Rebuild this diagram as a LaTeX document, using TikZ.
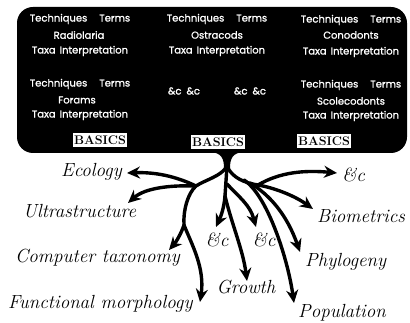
\documentclass[tikz,border=0pt]{standalone}
\usepackage{fontspec}
\newfontfamily\boxfont{Poppins}[FakeBold=1.2]
\usetikzlibrary{arrows.meta, positioning}

\begin{document}
\begin{tikzpicture}[x=1pt, y=-1pt,
    tx/.style = {text=white, font=\boxfont\fontsize{10}{11}\selectfont, inner sep=0pt},
    basics/.style = {fill=white, inner sep=1.5pt, minimum height=14pt,
        font=\bfseries\fontsize{12.5}{12.5}\selectfont\addfontfeatures{LetterSpace=14}},
    lbl/.style = {inner sep=0pt, font=\itshape\fontsize{19}{19}\selectfont\addfontfeatures{LetterSpace=16}},
    br/.style = {line width=3.4pt, line cap=round},
    arr/.style = {br, -{Stealth[length=13pt, width=12pt]}}]
    \useasboundingbox (0,0) rectangle (410,323);

    % the black panel
    \fill[rounded corners=16pt] (17,7) rectangle (407,153);

    \node[tx] (ra) at (80,19)  {Techniques\hspace{1.2em}Terms};
    \node[tx] (rb) at (79,35)  {Radiolaria};
    \node[tx] (rc) at (80,51)  {Taxa\hspace{0.4em}Interpretation};
    \node[tx] (fa) at (80,84)  {Techniques\hspace{1.2em}Terms};
    \node[tx] (fb) at (77,100) {Forams};
    \node[tx] (fc) at (80,115) {Taxa\hspace{0.4em}Interpretation};

    \node[tx] (oa) at (217,19) {Techniques\hspace{1.2em}Terms};
    \node[tx] (ob) at (217,35) {Ostracods};
    \node[tx] (oc) at (217,51) {Taxa\hspace{0.4em}Interpretation};
    \node[tx] (e1) at (184,91) {\&c\hspace{0.5em}\&c};
    \node[tx] (e2) at (250,91) {\&c\hspace{0.5em}\&c};

    \node[tx] (ca) at (351,20)  {Techniques\hspace{1.2em}Terms};
    \node[tx] (cb) at (351,35)  {Conodonts};
    \node[tx] (cc) at (351,52)  {Taxa\hspace{0.4em}Interpretation};
    \node[tx] (sa) at (351,85)  {Techniques\hspace{1.2em}Terms};
    \node[tx] (sb) at (351,101) {Scolecodonts};
    \node[tx] (sc) at (351,116) {Taxa\hspace{0.4em}Interpretation};

    \node[basics] (b1) at (100,140) {BASICS};
    \node[basics] (b2) at (218,142) {BASICS};
    \node[basics] (b3) at (324,141) {BASICS};

    % trunk
    \fill (211,152) .. controls (221,153) and (224,158) .. (224,168)
        -- (230,168) .. controls (230,158) and (233,153) .. (243,152) -- cycle;

    \coordinate (split) at (227,166);
    \coordinate (lf) at (196,186);
    \coordinate (lb) at (184,225);
    \coordinate (mc) at (225,196);
    \coordinate (rf) at (258,185);

    \node[lbl, anchor=east] (eco) at (122,172) {Ecology};
    \node[lbl, anchor=west] (ult) at (23,211)  {Ultrastructure};
    \node[lbl, anchor=west] (com) at (15,258)  {Computer taxonomy};
    \node[lbl, anchor=west] (fun) at (8,304)   {Functional morphology};
    \node[lbl] (gro) at (246,287) {Growth};
    \node[lbl] (ac1) at (217,240) {\&c};
    \node[lbl] (ac2) at (264,240) {\&c};
    \node[lbl, anchor=west] (ac3) at (342,175) {\&c};
    \node[lbl, anchor=west] (bio) at (317,216) {Biometrics};
    \node[lbl, anchor=west] (phy) at (305,262) {Phylogeny};
    \node[lbl, anchor=west] (pop) at (298,313) {Population};

    \coordinate (tEco) at (127,173);
    \coordinate (tUlt) at (128,203);
    \coordinate (tCom) at (169,250);
    \coordinate (tFun) at (200,302);
    \coordinate (tAc1) at (216,227);
    \coordinate (tAc2) at (256,227);
    \coordinate (tGro) at (247,281);
    \coordinate (tAc3) at (337,173);
    \coordinate (tBio) at (313,209);
    \coordinate (tPhy) at (300,252);
    \coordinate (tPop) at (294,303);

    % left
    \draw[br] (split) .. controls (222,176) and (205,180) .. (lf)
        .. controls (188,193) and (183,210) .. (lb);
    \draw[arr] (lf) .. controls (175,176) and (155,172) .. (tEco);
    \draw[arr] (lf) .. controls (170,185) and (145,188) .. (tUlt);
    \draw[arr] (lb) .. controls (181,234) and (176,242) .. (tCom);
    \draw[arr] (lb) .. controls (192,245) and (205,268) .. (tFun);

    % middle
    \draw[br] (split) -- (mc);
    \draw[arr] (mc) .. controls (224,208) and (221,216) .. (tAc1);
    \draw[arr] (227,184) .. controls (240,198) and (250,205) .. (tAc2);
    \draw[arr] (mc) .. controls (232,225) and (243,250) .. (tGro);

    % right
    \draw[br] (split) .. controls (232,178) and (245,183) .. (rf);
    \draw[arr] (rf) .. controls (280,172) and (305,170) .. (tAc3);
    \draw[arr] (rf) .. controls (275,188) and (295,196) .. (tBio);
    \draw[arr] (250,183) .. controls (270,195) and (287,215) .. (tPhy);
    \draw[arr] (244,180) .. controls (268,196) and (288,260) .. (tPop);
\end{tikzpicture}
\end{document}
